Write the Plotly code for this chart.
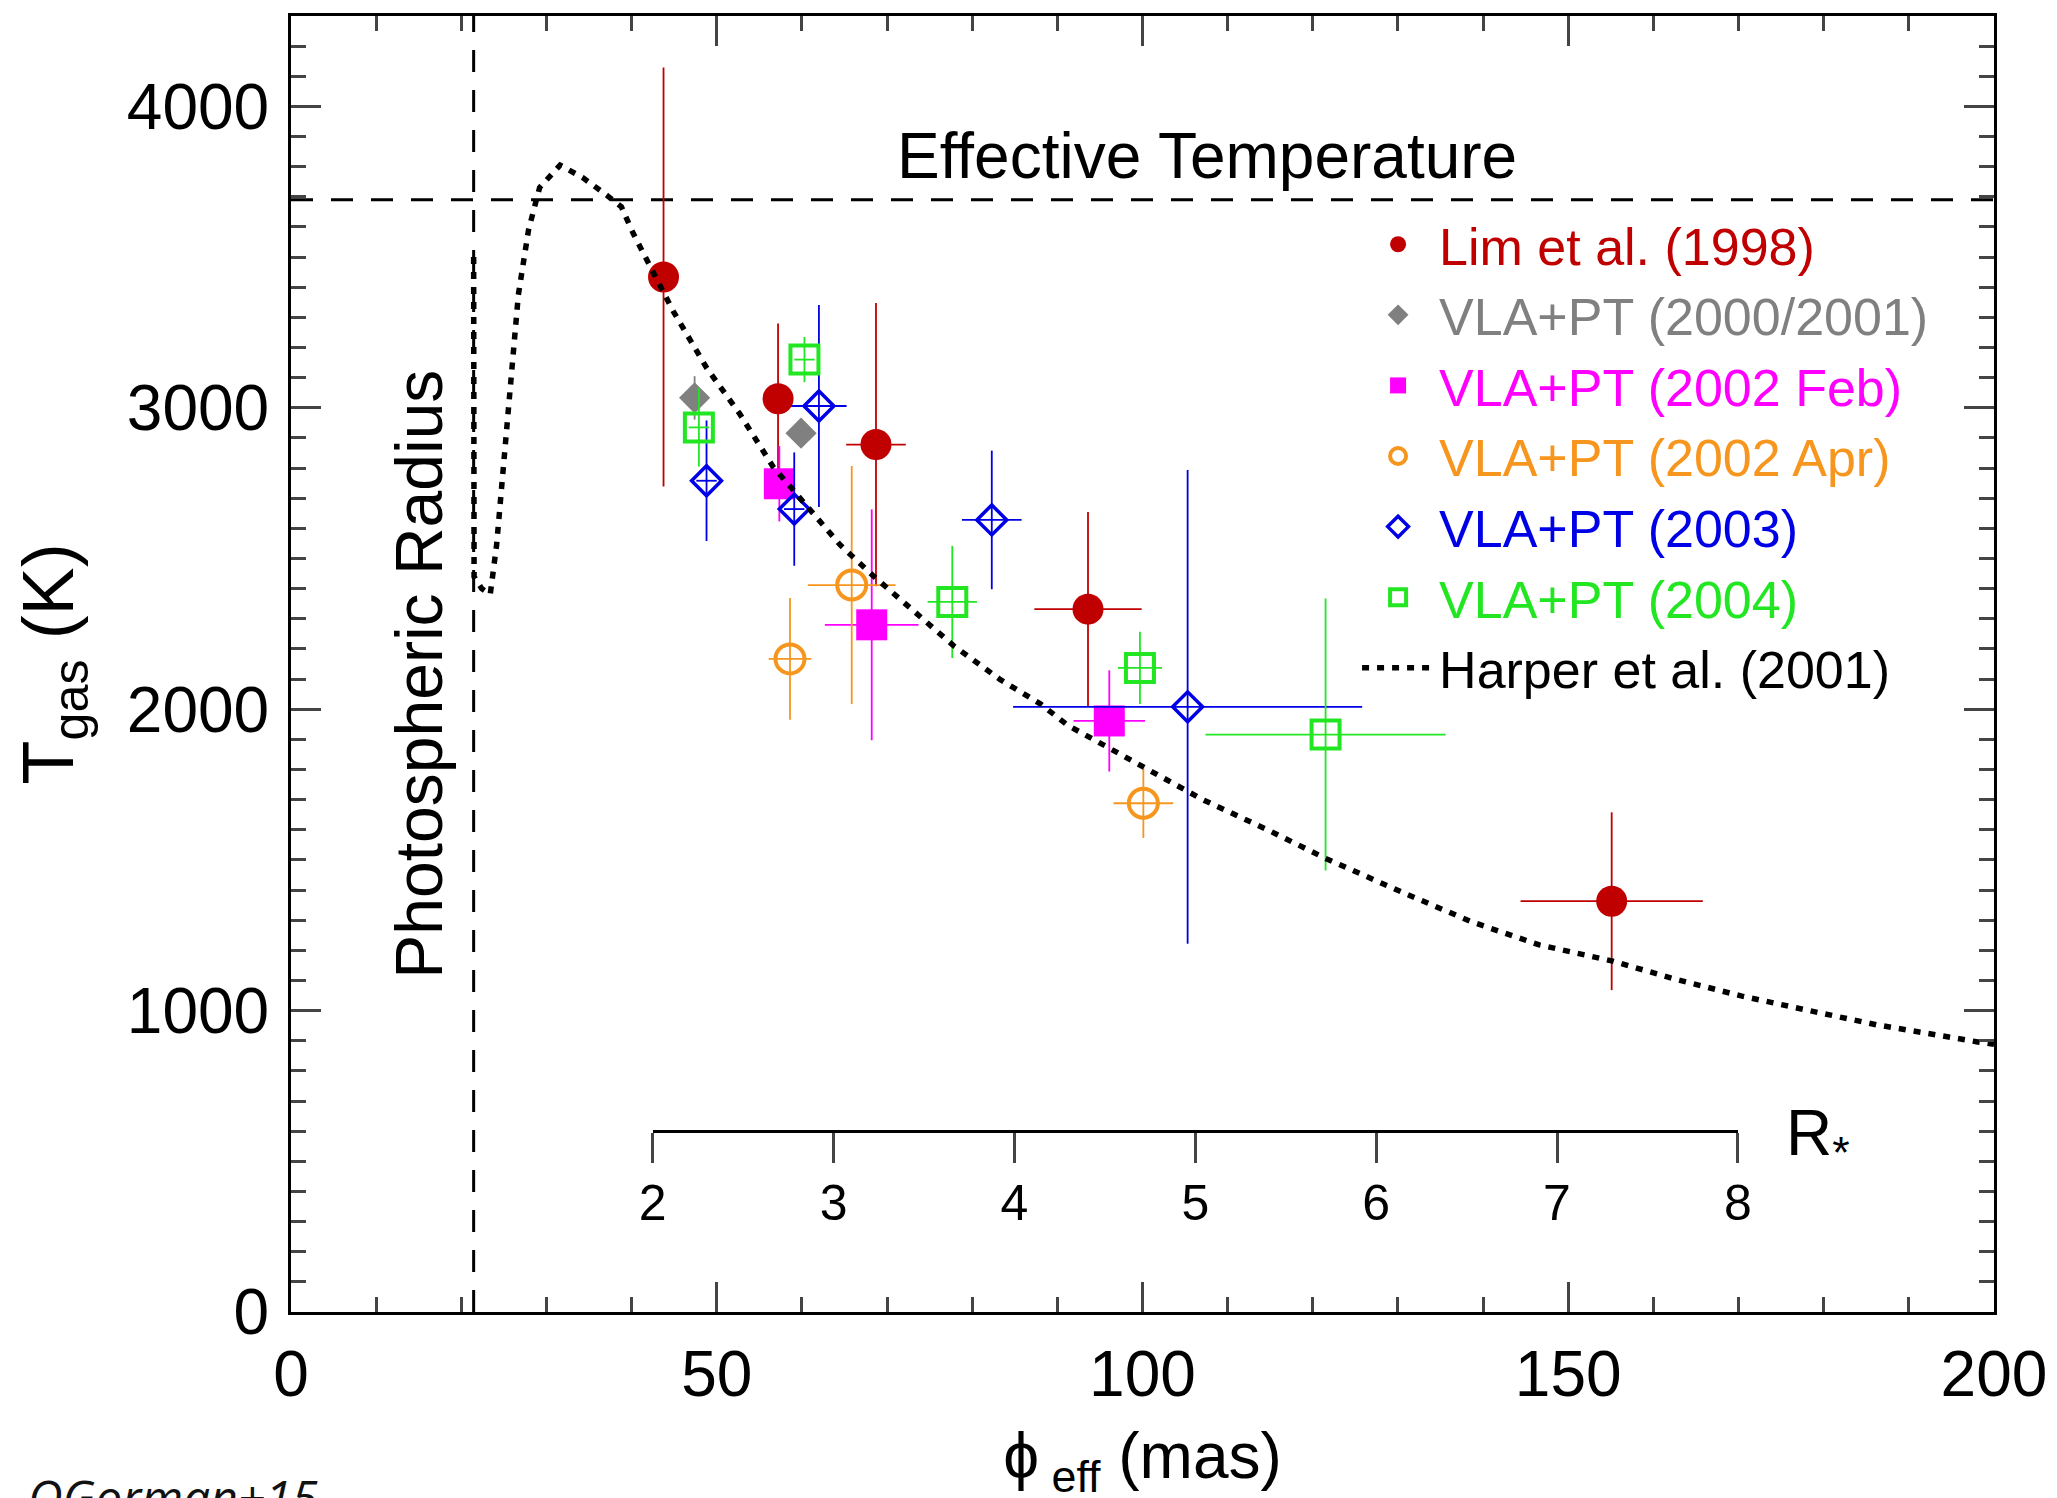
import plotly.graph_objects as go

FONT = "Liberation Sans, Arial, Helvetica, sans-serif"

# Lim et al. (1998)
lim_phi = [43.75, 57.2, 68.7, 93.6, 155.1]
lim_t = [3434, 3030, 2878, 2332, 1363]
lim_phi_err = [0, 0, 3.5, 6.3, 10.7]
lim_t_err = [695, 250, 470, 322, 295]

# VLA+PT (2000/2001)
v01_phi = [47.4, 59.9]
v01_t = [3033, 2916]
v01_phi_err = [0, 0]
v01_t_err = [72, 40]

# VLA+PT (2002 Feb)
v02f_phi = [57.35, 68.2, 96.1]
v02f_t = [2748, 2280, 1961]
v02f_phi_err = [0, 5.5, 4.2]
v02f_t_err = [125, 383, 168]

# VLA+PT (2002 Apr)
v02a_phi = [58.6, 65.85, 100.1]
v02a_t = [2167, 2412, 1688]
v02a_phi_err = [2.5, 5.15, 3.5]
v02a_t_err = [202, 395, 115]

# VLA+PT (2003)
v03_phi = [48.8, 59.1, 62.0, 82.3, 105.3]
v03_t = [2758, 2664, 3006, 2628, 2008]
v03_phi_err = [1.2, 1.2, 3.25, 3.5, 20.5]
v03_t_err = [200, 188, 335, 230, 786]

# VLA+PT (2004)
v04_phi = [47.9, 60.3, 77.66, 99.7, 121.5]
v04_t = [2935, 3160, 2356, 2137, 1916]
v04_phi_err = [1.2, 1.2, 2.9, 2.6, 14.1]
v04_t_err = [130, 75, 186, 120, 451]

# Harper et al. (2001) model curve
harper_phi = [21.45, 21.45, 21.5, 22.4, 23.4, 24.15, 24.9, 25.7, 26.7, 27.9,
              29.2, 31.6, 34.3, 37.1, 38.8, 40.2, 42.2, 44.9, 48.8, 52.7,
              56.6, 60.6, 64.5, 68.4, 72.9, 77.8, 83.3, 88.0, 91.2, 99.2,
              107.0, 114.9, 121.5, 130.8, 138.7, 146.6, 155.1, 162.5, 170.4,
              178.3, 186.2, 198.1, 200.0]
harper_t = [3500, 2950, 2440, 2400, 2381, 2546, 2801, 3056, 3375, 3591,
            3731, 3805, 3763, 3705, 3667, 3578, 3464, 3320, 3133, 2980,
            2805, 2670, 2545, 2442, 2330, 2211, 2098, 2018, 1947, 1820,
            1701, 1597, 1505, 1389, 1294, 1218, 1165, 1105, 1048,
            1000, 953, 896, 888]

T_EFF = 3690          # effective temperature (K)
PHOT_PHI = 21.45      # photospheric radius (mas)
R_STAR_MAS = 21.24    # 1 R* in mas
r_star_ticks = [2, 3, 4, 5, 6, 7, 8]

X_RANGE = [0, 200]
Y_RANGE = [0, 4300]

series = [
    dict(name="Lim et al. (1998)", color="#C00000", symbol="circle", size=31, lw=0,
         x=lim_phi, y=lim_t, ex=lim_phi_err, ey=lim_t_err),
    dict(name="VLA+PT (2000/2001)", color="#808080", symbol="diamond", size=24, lw=0,
         x=v01_phi, y=v01_t, ex=v01_phi_err, ey=v01_t_err),
    dict(name="VLA+PT (2002 Feb)", color="#FF00FF", symbol="square", size=31, lw=0,
         x=v02f_phi, y=v02f_t, ex=v02f_phi_err, ey=v02f_t_err),
    dict(name="VLA+PT (2002 Apr)", color="#F7961E", symbol="circle-open", size=29, lw=4,
         x=v02a_phi, y=v02a_t, ex=v02a_phi_err, ey=v02a_t_err),
    dict(name="VLA+PT (2003)", color="#0000E6", symbol="diamond-open", size=23, lw=3.5,
         x=v03_phi, y=v03_t, ex=v03_phi_err, ey=v03_t_err),
    dict(name="VLA+PT (2004)", color="#22E622", symbol="square-open", size=28, lw=4,
         x=v04_phi, y=v04_t, ex=v04_phi_err, ey=v04_t_err),
]

fig = go.Figure()

# reference lines
fig.add_trace(go.Scatter(x=X_RANGE, y=[T_EFF, T_EFF], mode="lines",
                         line=dict(color="black", width=3, dash="22px,18px"),
                         showlegend=False, hoverinfo="skip"))
fig.add_trace(go.Scatter(x=[PHOT_PHI, PHOT_PHI], y=Y_RANGE, mode="lines",
                         line=dict(color="black", width=3, dash="22px,18px"),
                         showlegend=False, hoverinfo="skip"))

for s in series:
    fig.add_trace(go.Scatter(
        x=s["x"], y=s["y"], mode="markers",
        name='<span style="color:%s">%s</span>' % (s["color"], s["name"]),
        marker=dict(symbol=s["symbol"], size=s["size"], color=s["color"],
                    line=dict(width=s["lw"], color=s["color"])),
        error_x=dict(type="data", array=s["ex"], symmetric=True, width=0,
                     thickness=1.8, color=s["color"]),
        error_y=dict(type="data", array=s["ey"], symmetric=True, width=0,
                     thickness=1.8, color=s["color"]),
    ))

fig.add_trace(go.Scatter(x=harper_phi, y=harper_t, mode="lines",
                         name="Harper et al. (2001)",
                         line=dict(color="black", width=5.5, dash="7px,8px")))

# carrier for the R* scale axis (own hidden y axis so it does not cover the data)
fig.add_trace(go.Scatter(x=[r_star_ticks[0], r_star_ticks[-1]], y=[0, 0],
                         xaxis="x2", yaxis="y2", mode="markers",
                         marker=dict(opacity=0, size=1), showlegend=False,
                         hoverinfo="skip"))

axis_common = dict(showline=True, linecolor="black", linewidth=3, mirror="allticks",
                   ticks="inside", tickwidth=3, ticklen=30, showgrid=False,
                   zeroline=False, tickfont=dict(size=64, family=FONT, color="black"))

fig.update_layout(
    width=2057, height=1498, autosize=False,
    margin=dict(l=283, r=71, t=5, b=194, pad=0),
    paper_bgcolor="white", plot_bgcolor="rgba(0,0,0,0)",
    font=dict(family=FONT, color="black"),
    hovermode=False,
    xaxis=dict(range=X_RANGE, dtick=50, tick0=0,
               minor=dict(dtick=10, ticks="inside", ticklen=15, tickwidth=3,
                          showgrid=False),
               ticklabelstandoff=4,
               title=dict(text="ϕ<sub> eff</sub> (mas)", font=dict(size=64),
                          standoff=25),
               **axis_common),
    yaxis=dict(range=Y_RANGE, dtick=1000, tick0=0,
               minor=dict(dtick=100, ticks="inside", ticklen=15, tickwidth=3,
                          showgrid=False),
               ticklabelstandoff=6,
               title=dict(text="T<sub>gas</sub> (K)", font=dict(size=72),
                          standoff=34),
               **axis_common),
    xaxis2=dict(domain=[r_star_ticks[0] * R_STAR_MAS / X_RANGE[1],
                        r_star_ticks[-1] * R_STAR_MAS / X_RANGE[1]],
                range=[r_star_ticks[0], r_star_ticks[-1]],
                anchor="free", position=0.1393, side="bottom",
                showline=True, linecolor="black", linewidth=3,
                ticks="outside", ticklen=30, tickwidth=3,
                tickvals=r_star_ticks, showgrid=False, zeroline=False,
                ticklabelstandoff=-3,
                tickfont=dict(size=50, family=FONT, color="black")),
    yaxis2=dict(domain=[0, 1], anchor="x2", range=[0, 1], visible=False),
    legend=dict(x=0.626, y=0.855, xanchor="left", yanchor="top",
                bgcolor="rgba(0,0,0,0)", font=dict(size=52, family=FONT),
                itemwidth=72, tracegroupgap=0),
    annotations=[
        dict(text="Effective Temperature", x=107.6, y=3835, xref="x", yref="y",
             showarrow=False, font=dict(size=64)),
        dict(text="Photospheric Radius", x=15.0, y=2117, xref="x", yref="y",
             textangle=-90, showarrow=False, font=dict(size=66)),
        dict(text="R<sub>*</sub>", x=175.3, y=580, xref="x", yref="y",
             xanchor="left", showarrow=False, font=dict(size=64)),
        dict(text="<i>OGorman+15</i>", x=-0.1556, y=-0.1154, xref="paper", yref="paper",
             xanchor="left", yanchor="top", showarrow=False,
             font=dict(size=48, family="Open Sans, Noto Sans, sans-serif", color="#111")),
    ],
)

fig.write_html("out.html")
